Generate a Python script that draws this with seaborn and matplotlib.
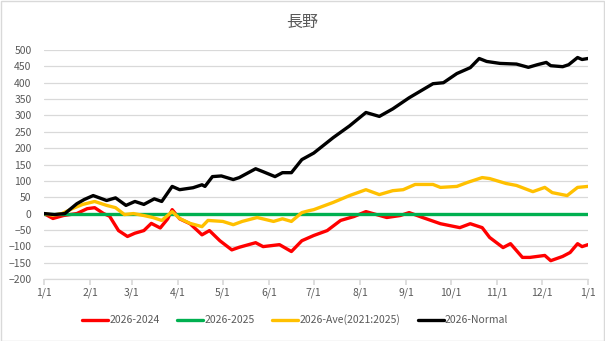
import numpy as np
import pandas as pd
import matplotlib
matplotlib.use("Agg")
import matplotlib.pyplot as plt
import seaborn as sns
from matplotlib.patches import Rectangle

# ---- data (day of year offset from 1/1, cumulative difference) ----
red_days = [0, 6, 13, 22, 29, 34, 40, 44, 50, 56, 61, 67, 72, 78, 83, 86, 91, 98, 106, 111,
            118, 126, 131, 142, 147, 158, 166, 173, 181, 190, 199, 208, 216, 230, 239, 245,
            254, 266, 279, 286, 294, 299, 308, 313, 321, 326, 336, 340, 348, 353, 358, 361, 365]
red_vals = [0, -15, -6, 0, 15, 18, 0, -8, -52, -70, -60, -52, -30, -44, -16, 12, -16, -31, -65, -52,
            -83, -111, -103, -89, -101, -95, -116, -83, -67, -52, -21, -9, 6, -12, -6, 3,
            -12, -31, -43, -31, -43, -73, -104, -92, -134, -134, -128, -144, -131, -119, -92, -101, -95]

green_days = [0, 365]
green_vals = [0, 0]

ave_days = [0, 6, 12, 19, 26, 34, 42, 48, 54, 60, 67, 73, 79, 86, 91, 98, 106, 110, 120, 127,
            133, 143, 154, 160, 166, 173, 178, 181, 194, 205, 216, 225, 234, 241, 249, 261, 266,
            277, 284, 294, 299, 310, 317, 328, 336, 341, 351, 358, 365]
ave_vals = [0, -5, 0, 15, 28, 37, 25, 18, -3, 0, -6, -12, -21, 6, -15, -30, -40, -21, -24, -34,
            -24, -12, -24, -16, -24, 3, 9, 12, 34, 55, 73, 58, 70, 73, 89, 89, 80,
            83, 95, 110, 107, 92, 86, 67, 80, 64, 55, 80, 83]

norm_days = [0, 7, 14, 22, 27, 33, 42, 48, 55, 61, 67, 74, 79, 86, 91, 100, 106, 108, 113, 119,
             127, 131, 142, 147, 155, 160, 166, 173, 181, 194, 205, 216, 225, 234, 245, 261,
             268, 277, 286, 292, 297, 306, 317, 325, 331, 337, 340, 348, 352, 358, 361, 365]
norm_vals = [0, -3, 0, 30, 43, 55, 40, 48, 25, 37, 28, 45, 37, 83, 73, 79, 88, 83, 113, 115,
             104, 110, 137, 128, 113, 125, 125, 165, 185, 232, 268, 309, 297, 320, 354, 397,
             400, 428, 446, 474, 465, 459, 457, 447, 455, 462, 452, 449, 455, 477, 471, 474]

series_names = ["2026-2024", "2026-2025", "2026-Ave(2021:2025)", "2026-Normal"]
series_colors = ["#FF0000", "#00B050", "#FFC000", "#000000"]

month_days = [0, 31, 59, 90, 120, 151, 181, 212, 243, 273, 304, 334, 365]
month_labels = ["1/1", "2/1", "3/1", "4/1", "5/1", "6/1", "7/1", "8/1", "9/1", "10/1", "11/1", "12/1", "1/1"]
y_ticks = list(range(-200, 501, 50))

# ---- build long-form table ----
frames = []
for name, d, v in zip(series_names,
                      [red_days, green_days, ave_days, norm_days],
                      [red_vals, green_vals, ave_vals, norm_vals]):
    frames.append(pd.DataFrame({"day": d, "value": v, "series": name}))
df = pd.concat(frames, ignore_index=True)

sns.set_theme(style="white")
plt.rcParams["font.family"] = ["Noto Sans CJK JP", "DejaVu Sans"]

fig = plt.figure(figsize=(6.05, 3.41), dpi=100)
ax = fig.add_axes([44 / 605, 1 - 279 / 341, (588 - 44) / 605, (279 - 50) / 341])

sns.lineplot(data=df, x="day", y="value", hue="series", hue_order=series_names,
             palette=series_colors, linewidth=2.4, ax=ax, legend=True, sort=False)

ax.set_xlim(0, 365)
ax.set_ylim(-200, 500)
ax.set_yticks(y_ticks)
ax.set_xticks(month_days)
ax.set_xticklabels(month_labels)
ax.yaxis.grid(True, color="#D9D9D9", linewidth=0.9)
ax.xaxis.grid(False)
ax.set_axisbelow(True)
for s in ["top", "right", "left"]:
    ax.spines[s].set_visible(False)
ax.spines["bottom"].set_color("#D9D9D9")
ax.spines["bottom"].set_linewidth(0.9)
ax.tick_params(axis="x", which="both", bottom=True, length=4, color="#D9D9D9",
               labelsize=7.5, labelcolor="#595959", pad=2)
ax.tick_params(axis="y", left=False, labelsize=7.5, labelcolor="#595959", pad=3)
ax.set_xlabel("")
ax.set_ylabel("")

fig.text(0.5, 1 - 22 / 341, "長野", ha="center", va="center", fontsize=11.5, color="#595959")

handles, labels = ax.get_legend_handles_labels()
ax.legend_.remove()
fig.legend(handles, labels, loc="center", bbox_to_anchor=(0.488, 1 - 320 / 341), ncol=4,
           frameon=False, fontsize=7.5, labelcolor="#595959", handlelength=2.5,
           handletextpad=0.1, columnspacing=1.7)

fig.patches.append(Rectangle((0.5 / 605, 0.5 / 341), 1 - 1.5 / 605, 1 - 1.5 / 341,
                             transform=fig.transFigure, fill=False,
                             edgecolor="#D9D9D9", linewidth=1.0))

fig.savefig("out.png", dpi=100, facecolor="white")
